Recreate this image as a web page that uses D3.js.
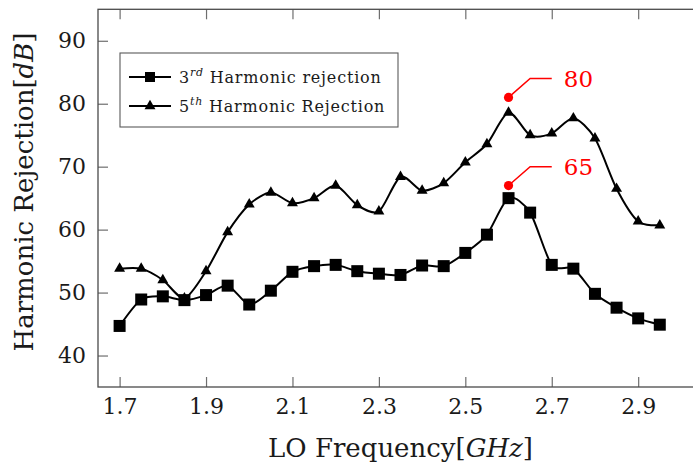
<!DOCTYPE html>
<html>
<head>
<meta charset="utf-8">
<script src="https://cdn.jsdelivr.net/npm/d3@7"></script>
<style>
  body { margin: 0; background: #fff; }
  svg { display: block; }
  text { font-family: 'DejaVu Serif', serif; fill: #1a1a1a; }
</style>
</head>
<body>
<svg width="693" height="466"></svg>
<script>
var freq = [1.7, 1.75, 1.8, 1.85, 1.9, 1.95, 2.0, 2.05, 2.1, 2.15, 2.2, 2.25, 2.3,
  2.35, 2.4, 2.45, 2.5, 2.55, 2.6, 2.65, 2.7, 2.75, 2.8, 2.85, 2.9, 2.95];
var third = [44.7, 48.9, 49.4, 48.8, 49.6, 51.1, 48.1, 50.3, 53.3, 54.2, 54.4, 53.4, 53.0,
  52.8, 54.3, 54.2, 56.3, 59.2, 65.0, 62.7, 54.4, 53.8, 49.8, 47.6, 45.9, 44.9];
var fifth = [53.8, 53.8, 52.0, 49.1, 53.4, 59.6, 64.0, 65.9, 64.2, 65.0, 67.0, 63.9, 62.9,
  68.4, 66.2, 67.4, 70.7, 73.6, 78.6, 75.0, 75.3, 77.7, 74.5, 66.5, 61.3, 60.7];
var xTicks = [1.7, 1.9, 2.1, 2.3, 2.5, 2.7, 2.9];
var yTicks = [40, 50, 60, 70, 80, 90];
var peakX = [2.6, 2.6];
var peakY = [67, 81];
var peakLabels = ["65", "80"];

var serif = "DejaVu Serif";
var svg = d3.select("svg");

var x = d3.scaleLinear()
  .domain([1.65, 3.05])
  .range([98, 703]);

var y = d3.scaleLinear()
  .domain([35, 95])
  .range([387, 9.3]);

var tickLen = 10;

// axes, ticks pointing inside
svg.append("g")
  .attr("transform", "translate(0," + y(35) + ")")
  .call(d3.axisBottom(x).tickValues(xTicks).tickSize(-tickLen).tickPadding(11)
    .tickFormat(d3.format(".1f")));
svg.append("g")
  .attr("transform", "translate(0," + y(95) + ")")
  .call(d3.axisTop(x).tickValues(xTicks).tickSize(-tickLen).tickFormat(""));
svg.append("g")
  .attr("transform", "translate(" + x(1.65) + ",0)")
  .call(d3.axisLeft(y).tickValues(yTicks).tickSize(-tickLen).tickPadding(12));
svg.append("g")
  .attr("transform", "translate(" + x(3.05) + ",0)")
  .call(d3.axisRight(y).tickValues(yTicks).tickSize(-tickLen).tickFormat(""));

svg.selectAll("g").attr("font-family", null);
svg.selectAll(".domain").remove();
svg.selectAll(".tick line").attr("stroke", "#6e6e6e").attr("stroke-width", 1.2);
svg.selectAll(".tick text")
  .style("font-family", serif)
  .attr("font-size", 22)
  .attr("fill", "#1a1a1a");

svg.append("rect")
  .attr("x", x(1.65))
  .attr("y", y(95))
  .attr("width", x(3.05) - x(1.65))
  .attr("height", y(35) - y(95))
  .attr("fill", "none")
  .attr("stroke", "#4a4a4a")
  .attr("stroke-width", 1.3);

// axis titles
var xt = svg.append("text")
  .attr("x", (x(1.65) + x(3.05)) / 2)
  .attr("y", 457)
  .attr("text-anchor", "middle")
  .style("font-family", serif)
  .attr("font-size", 26);
xt.append("tspan").text("LO Frequency[");
xt.append("tspan").attr("font-style", "italic").text("GHz");
xt.append("tspan").text("]");

var yt = svg.append("text")
  .attr("transform", "translate(33,192) rotate(-90)")
  .attr("text-anchor", "middle")
  .style("font-family", serif)
  .attr("font-size", 26);
yt.append("tspan").text("Harmonic Rejection[");
yt.append("tspan").attr("font-style", "italic").text("dB");
yt.append("tspan").text("]");

// series
var line = d3.line()
  .x(function(d) { return x(d[0]); })
  .y(function(d) { return y(d[1]); })
  .curve(d3.curveCardinal.tension(0.2));

var thirdPts = freq.map(function(f, i) { return [f, third[i]]; });
var fifthPts = freq.map(function(f, i) { return [f, fifth[i]]; });

svg.append("path")
  .attr("d", line(fifthPts))
  .attr("fill", "none")
  .attr("stroke", "#000")
  .attr("stroke-width", 2);
svg.append("path")
  .attr("d", line(thirdPts))
  .attr("fill", "none")
  .attr("stroke", "#000")
  .attr("stroke-width", 2);

var tri = d3.symbol().type(d3.symbolTriangle).size(52);
var sq = 12;

svg.append("g").selectAll("path")
  .data(fifthPts)
  .enter().append("path")
  .attr("d", tri)
  .attr("transform", function(d) { return "translate(" + x(d[0]) + "," + y(d[1]) + ")"; })
  .attr("fill", "#000");

svg.append("g").selectAll("rect")
  .data(thirdPts)
  .enter().append("rect")
  .attr("x", function(d) { return x(d[0]) - sq / 2; })
  .attr("y", function(d) { return y(d[1]) - sq / 2; })
  .attr("width", sq)
  .attr("height", sq)
  .attr("fill", "#000");

// peak annotations
peakX.forEach(function(px, i) {
  var py = peakY[i];
  svg.append("path")
    .attr("d", d3.line()([[x(px), y(py)], [x(px + 0.05), y(py + 3)], [x(px + 0.1), y(py + 3)]]))
    .attr("fill", "none")
    .attr("stroke", "#ff0000")
    .attr("stroke-width", 1.5);
  svg.append("circle")
    .attr("cx", x(px))
    .attr("cy", y(py))
    .attr("r", 4.6)
    .attr("fill", "#ff0000");
  svg.append("text")
    .attr("x", x(px + 0.1) + 12)
    .attr("y", y(py + 3))
    .attr("dy", "0.36em")
    .style("font-family", serif)
    .attr("font-size", 23)
    .style("fill", "#ff0000")
    .text(peakLabels[i]);
});

// legend
var legend = svg.append("g");
legend.append("rect")
  .attr("x", 120)
  .attr("y", 53)
  .attr("width", 278)
  .attr("height", 74)
  .attr("fill", "#fff")
  .attr("stroke", "#5a5a5a")
  .attr("stroke-width", 1.1);

var legendRows = [
  { num: "3", sup: "rd", name: " Harmonic rejection", mark: "square", cy: 77 },
  { num: "5", sup: "th", name: " Harmonic Rejection", mark: "triangle", cy: 106 }
];

legendRows.forEach(function(r) {
  legend.append("line")
    .attr("x1", 129).attr("x2", 171)
    .attr("y1", r.cy).attr("y2", r.cy)
    .attr("stroke", "#000")
    .attr("stroke-width", 2);
  if (r.mark === "square") {
    legend.append("rect")
      .attr("x", 150 - 5).attr("y", r.cy - 5)
      .attr("width", 10).attr("height", 10)
      .attr("fill", "#000");
  } else {
    legend.append("path")
      .attr("d", tri)
      .attr("transform", "translate(150," + r.cy + ")")
      .attr("fill", "#000");
  }
  var t = legend.append("text")
    .attr("x", 179)
    .attr("y", r.cy)
    .attr("dy", "0.36em")
    .style("font-family", serif)
    .attr("font-size", 16)
    .attr("letter-spacing", 0.8);
  t.append("tspan").text(r.num);
  t.append("tspan").attr("font-style", "italic").attr("font-size", 11).attr("dy", -7).text(r.sup);
  t.append("tspan").attr("dy", 7).text(r.name);
});
</script>
</body>
</html>
